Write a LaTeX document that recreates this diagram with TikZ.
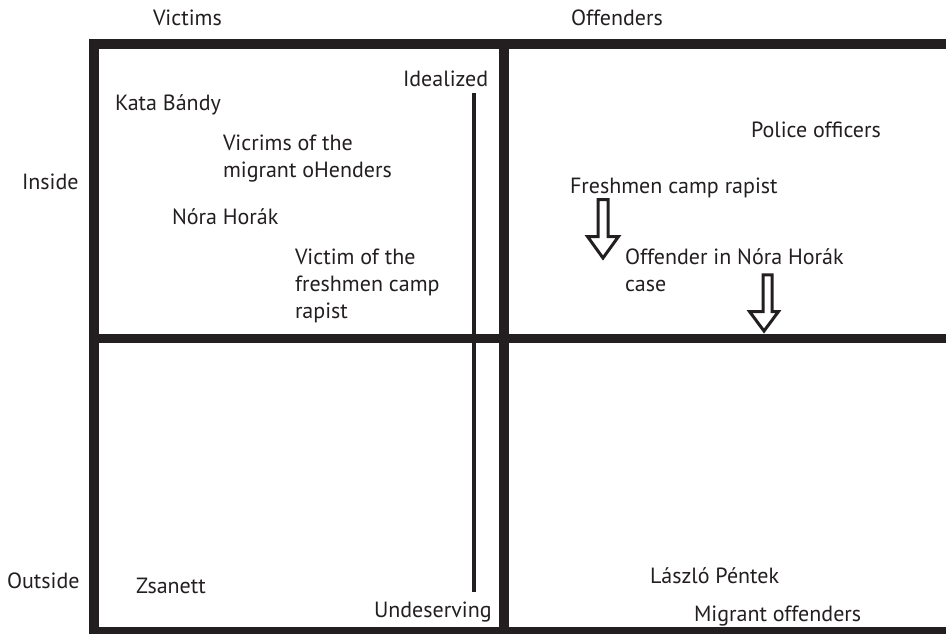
\documentclass[tikz,border=0pt]{standalone}
\usepackage{fontspec}
\setmainfont{PT Sans}
\definecolor{ink}{HTML}{231F20}
\begin{document}
\begin{tikzpicture}[x=1pt,y=-1pt,
  lbl/.style={anchor=base west, inner sep=0pt, outer sep=0pt, text=ink, font=\fontsize{22}{27}\selectfont},
  frame/.style={draw=ink, line width=9.5pt, line join=miter},
  axisline/.style={draw=ink, line width=4.5pt},
  blockarrow/.style={draw=ink, line width=3pt, fill=white, line join=miter}]
\useasboundingbox (0,0) rectangle (946,633);
\clip (0,0) rectangle (946,633);
\fill[white] (0,0) rectangle (946,633);
% frame
\draw[frame] (950,44) -- (94,44) -- (94,640);
\draw[frame, line width=10pt] (504,40) -- (504,640);
\draw[frame] (94,338.5) -- (950,338.5);
\draw[frame] (94,632) -- (950,632);
% idealized / undeserving axis
\coordinate (axtop) at (474,93);
\coordinate (axbot) at (474,592);
\draw[axisline] (axtop) -- (axbot);
% labels
\node[lbl] (victims) at (153,25) {Victims};
\node[lbl] (offenders) at (571,25) {Offenders};
\node[lbl] (inside) at (22,189) {Inside};
\node[lbl] (outside) at (7,588) {Outside};
\node[lbl] (idealized) at (403,86) {Idealized};
\node[lbl] (kata) at (115,110) {Kata Bándy};
\node[lbl] (vm1) at (223,150) {Vicrims of the};
\node[lbl] (vm2) at (223,177) {migrant oHenders};
\node[lbl] (nora) at (172,224) {Nóra Horák};
\node[lbl] (vf1) at (295,264) {Victim of the};
\node[lbl] (vf2) at (295,291) {freshmen camp};
\node[lbl] (vf3) at (295,318) {rapist};
\node[lbl] (police) at (751,137) {Police officers};
\node[lbl] (fcr) at (570,193) {Freshmen camp rapist};
\node[lbl] (onh1) at (625,264) {Offender in Nóra Horák};
\node[lbl] (onh2) at (625,291) {case};
\node[lbl] (laszlo) at (650,583) {László Péntek};
\node[lbl] (migrant) at (694,621) {Migrant offenders};
\node[lbl] (zsanett) at (136,593) {Zsanett};
\node[lbl] (undeserving) at (374,617) {Undeserving};
% block arrows
\draw[blockarrow] (598,199.5) -- (608,199.5) -- (608,236.5) -- (618.5,236.5) -- (603,258) -- (587.5,236.5) -- (598,236.5) -- cycle;
\draw[blockarrow] (763,274.8) -- (772,274.8) -- (772,311.5) -- (778.5,311.5) -- (764,331) -- (749.5,311.5) -- (763,311.5) -- cycle;
\end{tikzpicture}
\end{document}
